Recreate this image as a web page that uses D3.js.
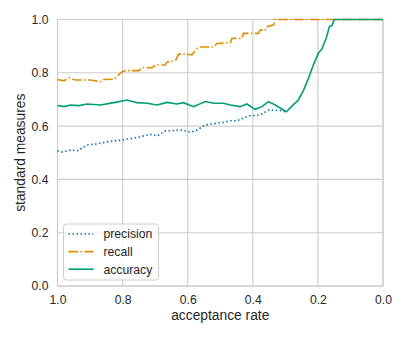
<!DOCTYPE html>
<html>
<head>
<meta charset="utf-8">
<script src="https://cdn.jsdelivr.net/npm/d3@7"></script>
<style>
  body { margin: 0; background: #fff; }
  text { font-family: "Liberation Sans", Arial, sans-serif; fill: #262626; }
</style>
</head>
<body>
<svg id="chart" width="407" height="339"></svg>
<script>
const precisionX = [1.00, 0.99, 0.98, 0.96, 0.935, 0.93, 0.91, 0.88, 0.843, 0.80, 0.756, 0.715, 0.694, 0.669, 0.617, 0.592, 0.575, 0.546, 0.51, 0.49, 0.469, 0.449, 0.413, 0.377, 0.352, 0.311, 0.30];
const precisionY = [0.508, 0.502, 0.504, 0.510, 0.508, 0.513, 0.529, 0.533, 0.542, 0.548, 0.557, 0.569, 0.563, 0.582, 0.585, 0.577, 0.583, 0.604, 0.611, 0.614, 0.620, 0.620, 0.638, 0.642, 0.660, 0.658, 0.654];

const recallX = [1.00, 0.98, 0.965, 0.945, 0.899, 0.868, 0.858, 0.827, 0.816, 0.801, 0.791, 0.75, 0.74, 0.709, 0.699, 0.669, 0.663, 0.638, 0.628, 0.602, 0.587, 0.575, 0.561, 0.52, 0.51, 0.469, 0.464, 0.433, 0.429, 0.383, 0.377, 0.362, 0.358, 0.336, 0.333, 0.0];
const recallY = [0.775, 0.770, 0.781, 0.773, 0.773, 0.767, 0.775, 0.776, 0.788, 0.804, 0.808, 0.808, 0.820, 0.819, 0.829, 0.829, 0.841, 0.845, 0.870, 0.870, 0.867, 0.888, 0.897, 0.897, 0.910, 0.913, 0.929, 0.929, 0.948, 0.948, 0.960, 0.960, 0.972, 0.980, 1.0, 1.0];

const accuracyX = [1.00, 0.98, 0.96, 0.935, 0.909, 0.868, 0.827, 0.786, 0.756, 0.725, 0.694, 0.664, 0.633, 0.613, 0.582, 0.546, 0.52, 0.49, 0.469, 0.439, 0.418, 0.393, 0.372, 0.352, 0.331, 0.297, 0.28, 0.26, 0.244, 0.229, 0.214, 0.198, 0.188, 0.173, 0.165, 0.156, 0.15, 0.0];
const accuracyY = [0.677, 0.673, 0.679, 0.677, 0.683, 0.679, 0.688, 0.698, 0.688, 0.686, 0.679, 0.689, 0.683, 0.688, 0.673, 0.692, 0.686, 0.686, 0.679, 0.673, 0.683, 0.663, 0.673, 0.692, 0.679, 0.654, 0.675, 0.698, 0.735, 0.779, 0.829, 0.875, 0.888, 0.935, 0.973, 0.979, 1.0, 1.0];

const xTicks = [1.0, 0.8, 0.6, 0.4, 0.2, 0.0];
const yTicks = [0.0, 0.2, 0.4, 0.6, 0.8, 1.0];

const series = [
  { name: "precision", xs: precisionX, ys: precisionY, color: "#0173b2", dash: "1.5,2.5" },
  { name: "recall", xs: recallX, ys: recallY, color: "#de8f05", dash: "9.6,2.4,1.5,2.4" },
  { name: "accuracy", xs: accuracyX, ys: accuracyY, color: "#029e73", dash: null }
];

const svg = d3.select("#chart");
const m = { left: 57.5, right: 383, top: 19.5, bottom: 286 };

const x = d3.scaleLinear().domain([1, 0]).range([m.left, m.right]);
const y = d3.scaleLinear().domain([0, 1]).range([m.bottom, m.top]);

// grid
svg.append("g").selectAll("line").data(xTicks).join("line")
  .attr("x1", d => x(d)).attr("x2", d => x(d))
  .attr("y1", m.top).attr("y2", m.bottom)
  .attr("stroke", "#cccccc").attr("stroke-width", 1.1);
svg.append("g").selectAll("line").data(yTicks).join("line")
  .attr("x1", m.left).attr("x2", m.right)
  .attr("y1", d => y(d)).attr("y2", d => y(d))
  .attr("stroke", "#cccccc").attr("stroke-width", 1.1);

// axes (labels only, like seaborn whitegrid)
const xAxis = svg.append("g").attr("transform", `translate(0,${m.bottom})`)
  .call(d3.axisBottom(x).tickValues(xTicks).tickFormat(d3.format(".1f")).tickSize(0).tickPadding(9));
const yAxis = svg.append("g").attr("transform", `translate(${m.left},0)`)
  .call(d3.axisLeft(y).tickValues(yTicks).tickFormat(d3.format(".1f")).tickSize(0).tickPadding(9));
[xAxis, yAxis].forEach(a => {
  a.select(".domain").remove();
  a.selectAll("text").style("font-size", "12.2px").attr("fill", "#262626")
    .style("font-family", "'Liberation Sans', Arial, sans-serif");
});

// frame
svg.append("rect")
  .attr("x", m.left).attr("y", m.top)
  .attr("width", m.right - m.left).attr("height", m.bottom - m.top)
  .attr("fill", "none").attr("stroke", "#cccccc").attr("stroke-width", 1.1);

// lines
const line = d3.line().x(d => x(d[0])).y(d => y(d[1]));
series.forEach(s => {
  const pts = s.xs.map((v, i) => [v, s.ys[i]]);
  svg.append("path").datum(pts)
    .attr("d", line)
    .attr("fill", "none")
    .attr("stroke", s.color)
    .attr("stroke-width", 1.6)
    .attr("stroke-dasharray", s.dash);
});

// axis titles
svg.append("text")
  .attr("x", (m.left + m.right) / 2).attr("y", 320)
  .attr("text-anchor", "middle").style("font-size", "13.8px")
  .text("acceptance rate");
svg.append("text")
  .attr("transform", `translate(25,${(m.top + m.bottom) / 2}) rotate(-90)`)
  .attr("text-anchor", "middle").style("font-size", "13.8px")
  .text("standard measures");

// legend
const lg = svg.append("g").attr("transform", "translate(63.5,224)");
lg.append("rect").attr("width", 95).attr("height", 56).attr("rx", 3)
  .attr("fill", "#fff").attr("fill-opacity", 0.8)
  .attr("stroke", "#cccccc").attr("stroke-width", 1);
series.forEach((s, i) => {
  const cy = 10 + i * 17.6;
  lg.append("line").attr("x1", 5).attr("x2", 30).attr("y1", cy).attr("y2", cy)
    .attr("stroke", s.color).attr("stroke-width", 1.6).attr("stroke-dasharray", s.dash);
  lg.append("text").attr("x", 40).attr("y", cy + 4.3).style("font-size", "12.2px").text(s.name);
});
</script>
</body>
</html>
